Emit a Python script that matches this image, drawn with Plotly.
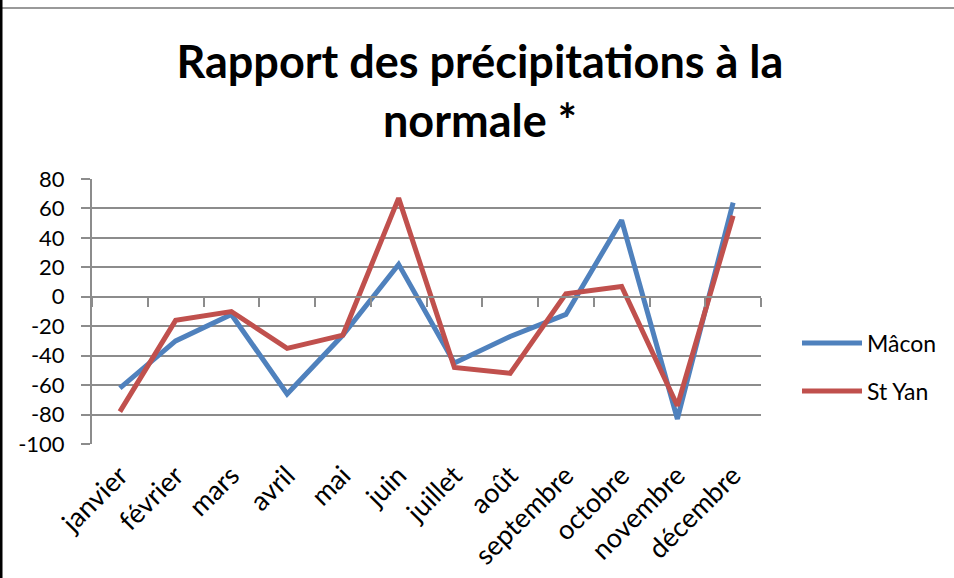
import plotly.graph_objects as go

months = ["janvier", "février", "mars", "avril", "mai", "juin", "juillet",
          "août", "septembre", "octobre", "novembre", "décembre"]
macon = [-62, -30, -12, -66, -26, 22, -45, -27, -12, 52, -83, 64]
st_yan = [-78, -16, -10, -35, -26, 67, -48, -52, 2, 7, -74, 55]
y_ticks = list(range(-100, 81, 20))
y_tick_text = [str(v) for v in y_ticks]
series_names = ["Mâcon", "St Yan"]
series_colors = ["#4F81BD", "#C0504D"]

W, H = 954, 578
L, R, T, B = 92, 193, 179, 134
GRID = "#8C8C8C"
FONT = "Lato"

fig = go.Figure()
fig.add_trace(go.Scatter(x=months, y=macon, mode="lines", name=series_names[0],
                         line=dict(color=series_colors[0], width=5), legend="legend"))
fig.add_trace(go.Scatter(x=months, y=st_yan, mode="lines", name=series_names[1],
                         line=dict(color=series_colors[1], width=5), legend="legend2"))

pw, ph = W - L - R, H - T - B
def px_x(p):
    return (p - L) / pw
def px_y(p):
    return (H - B - p) / ph

n = len(months)
bounds = [i - 0.5 for i in range(n + 1)]

fig.update_layout(
    width=W, height=H, autosize=False,
    margin=dict(l=L, r=R, t=T, b=B, pad=0, autoexpand=False),
    paper_bgcolor="white", plot_bgcolor="white",
    font=dict(family=FONT, size=22, color="black"),
    title=dict(text="Rapport des précipitations à la<br>normale *",
               font=dict(family=FONT, size=45, weight=700, color="black"),
               x=0.503, xref="container", xanchor="center",
               y=1 - 78 / H, yref="container", yanchor="middle"),
    xaxis=dict(type="category", range=[-0.5, n - 0.5], showgrid=False,
               automargin=False,
               zeroline=False, showline=False, tickangle=-45,
               ticks="outside", ticklen=4, tickcolor="rgba(0,0,0,0)",
               tickfont=dict(family=FONT, size=27)),
    xaxis2=dict(overlaying="x", anchor="free", side="bottom",
                automargin=False,
                position=(0 - min(y_ticks)) / (max(y_ticks) - min(y_ticks)),
                range=[-0.5, n - 0.5], tickmode="array", tickvals=bounds,
                showticklabels=False, ticks="outside", ticklen=9, tickwidth=2,
                tickcolor=GRID, showline=True, linecolor=GRID, linewidth=2,
                showgrid=False, zeroline=False),
    yaxis=dict(range=[min(y_ticks), max(y_ticks)], tickmode="array",
               automargin=False,
               tickvals=y_ticks, ticktext=y_tick_text,
               showgrid=True, gridcolor=GRID, gridwidth=2, zeroline=False,
               showline=True, linecolor=GRID, linewidth=2,
               ticks="outside", ticklen=9, tickwidth=2, tickcolor=GRID,
               ticklabelstandoff=12,
               tickfont=dict(family=FONT, size=22)),
    legend=dict(x=px_x(797), y=px_y(343), xanchor="left", yanchor="middle",
                bgcolor="rgba(0,0,0,0)", itemwidth=60,
                font=dict(family=FONT, size=23)),
    legend2=dict(x=px_x(797), y=px_y(391), xanchor="left", yanchor="middle",
                 bgcolor="rgba(0,0,0,0)", itemwidth=60,
                 font=dict(family=FONT, size=23)),
    shapes=[
        dict(type="line", xref="paper", yref="paper",
             x0=px_x(0), x1=px_x(W), y0=px_y(8), y1=px_y(8),
             line=dict(color="#999999", width=2)),
        dict(type="line", xref="paper", yref="paper",
             x0=px_x(1), x1=px_x(1), y0=px_y(0), y1=px_y(H),
             line=dict(color="black", width=3)),
    ],
)
fig.add_trace(go.Scatter(x=[None], y=[None], xaxis="x2", showlegend=False, hoverinfo="skip"))

fig.write_html("out.html", config={"displayModeBar": False},
               post_script="document.body.style.margin='0px';")
